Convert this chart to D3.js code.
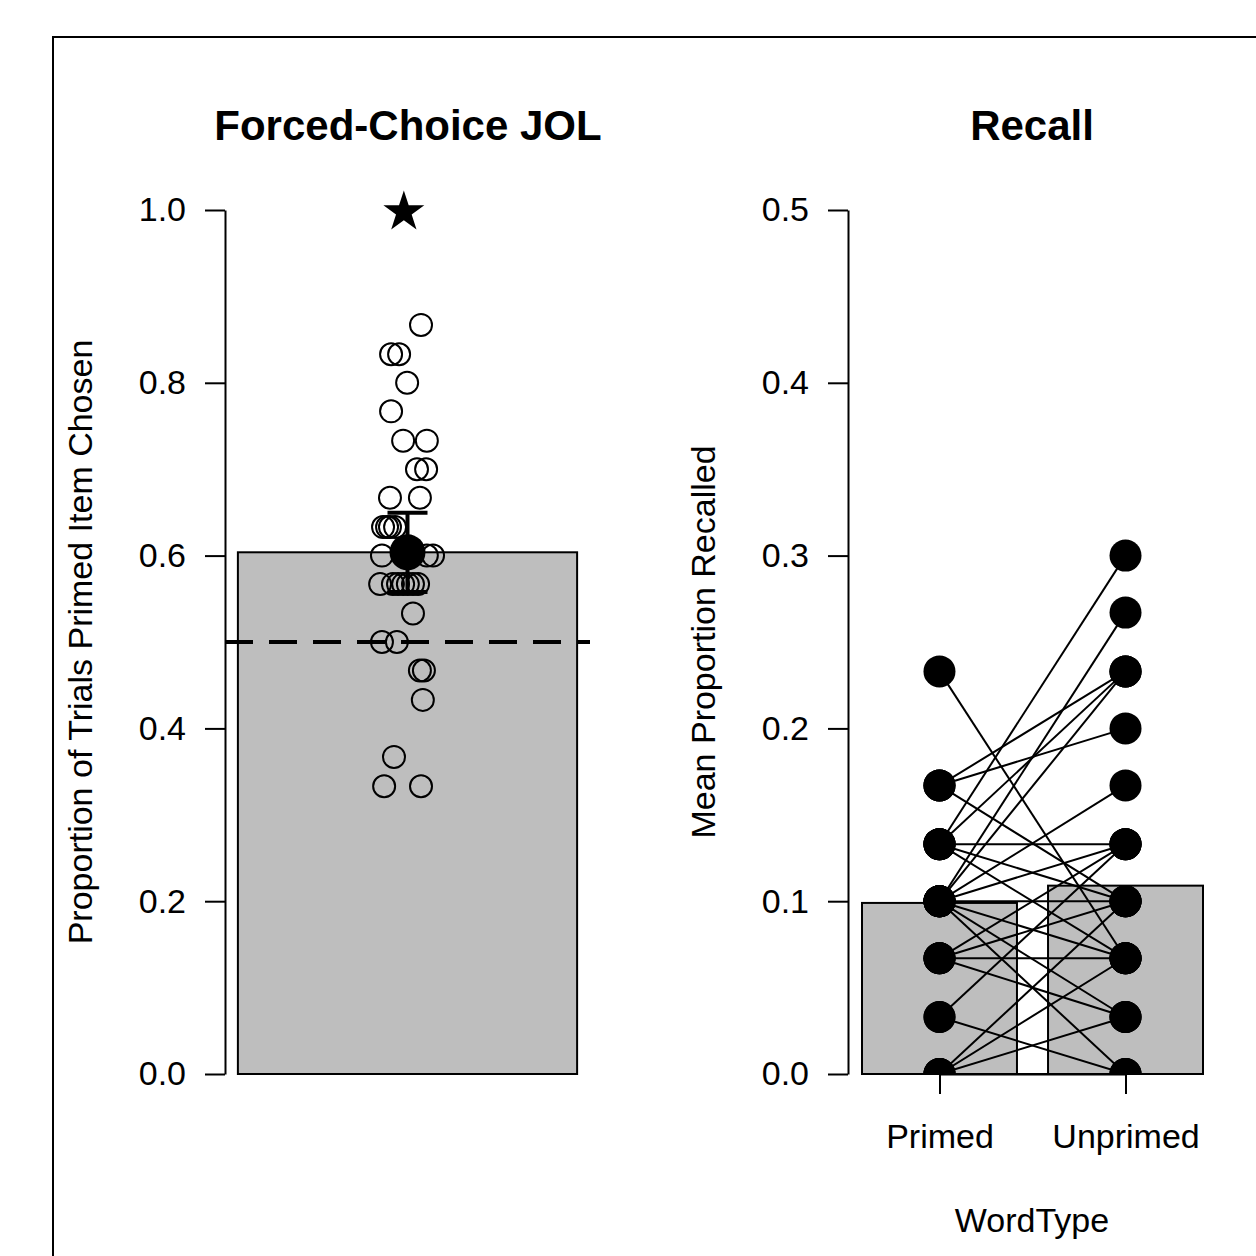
<!DOCTYPE html>
<html>
<head>
<meta charset="utf-8">
<script src="https://cdnjs.cloudflare.com/ajax/libs/d3/7.8.5/d3.min.js"></script>
<style>
  body { margin: 0; background: #fff; }
  text { font-family: "Liberation Sans", Arial, sans-serif; fill: #000; }
</style>
</head>
<body>
<div id="chart"></div>
<script>
// ---- data ----
// left panel: proportion of trials the primed item was chosen, one point per participant
var jolProps = [0.867,0.833,0.833,0.8,0.767,0.733,0.733,0.7,0.7,0.667,0.667,
                0.633,0.633,0.633,0.633,0.6,0.6,0.6,0.6,
                0.567,0.567,0.567,0.567,0.567,0.567,0.567,0.533,0.5,0.5,
                0.467,0.467,0.433,0.367,0.333,0.333]
// horizontal jitter of those points (0..1 across the panel)
var jolJitter = [0.537,0.455,0.477,0.499,0.455,0.488,0.553,0.526,0.551,0.452,0.534,
                 0.433,0.444,0.452,0.466,0.430,0.501,0.553,0.570,
                 0.425,0.460,0.474,0.488,0.501,0.515,0.529,0.515,0.430,0.471,
                 0.534,0.545,0.542,0.463,0.436,0.537]
var chance = 0.5
var sigMark = [1.0]
var jolTicks = [0, 0.2, 0.4, 0.6, 0.8, 1.0]

// right panel: recall per participant, primed vs unprimed
var wordTypes = ["Primed", "Unprimed"]
var recallMeans = [0.099, 0.109]
var recallPrimed = [0.233,0.167,0.167,0.167,0.133,0.133,0.133,0.133,0.133,
                    0.1,0.1,0.1,0.1,0.1,0.1,0.1,0.1,0.067,0.067,0.067,0.067,
                    0.033,0.033,0,0,0,0]
var recallUnprimed = [0.067,0.233,0.2,0.1,0.3,0.233,0.133,0.1,0.067,
                      0.267,0.233,0.167,0.133,0.1,0.067,0.033,0,0.133,0.1,0.067,0.033,
                      0.133,0,0.1,0.067,0.033,0]
var recallTicks = [0, 0.1, 0.2, 0.3, 0.4, 0.5]

var W = 1256, H = 1256
var FS = 34, TITLE_FS = 42
var svg = d3.select('#chart').append('svg')
    .attr('width', W).attr('height', H)

// frame (runs off the right and bottom edge like the source)
svg.append('rect')
    .attr('x', 53).attr('y', 37).attr('width', 1400).attr('height', 1400)
    .attr('fill', 'none').attr('stroke', '#000').attr('stroke-width', 2)

// ================= left panel =================
var yL = d3.scaleLinear().domain([0, 1]).range([1074, 210])
var xL = d3.scaleLinear().domain([0, 1]).range([225, 590])
var bandL = d3.scaleBand().domain(['jol']).range([225, 590]).paddingOuter(0.038)

var left = svg.append('g')

var jolMean = d3.mean(jolProps)
var se = d3.deviation(jolProps) / Math.sqrt(jolProps.length)
var ci = 2.03 * se

left.append('rect')
    .attr('x', bandL('jol')).attr('width', bandL.bandwidth())
    .attr('y', yL(jolMean)).attr('height', yL(0) - yL(jolMean))
    .attr('fill', '#bebebe').attr('stroke', '#000').attr('stroke-width', 2)

left.append('line')
    .attr('x1', xL(0)).attr('x2', xL(1))
    .attr('y1', yL(chance)).attr('y2', yL(chance))
    .attr('stroke', '#000').attr('stroke-width', 4)
    .attr('stroke-dasharray', '28,16')

left.selectAll('.pt')
    .data(jolProps)
  .enter().append('circle')
    .attr('class', 'pt')
    .attr('cx', function(d, i) { return xL(jolJitter[i]) })
    .attr('cy', function(d) { return yL(d) })
    .attr('r', 11)
    .attr('fill', 'none').attr('stroke', '#000').attr('stroke-width', 2)

var cx = xL(0.5)
var eb = left.append('g').attr('stroke', '#000').attr('stroke-width', 4)
eb.append('line').attr('x1', cx).attr('x2', cx).attr('y1', yL(jolMean - ci)).attr('y2', yL(jolMean + ci))
eb.append('line').attr('x1', cx - 20).attr('x2', cx + 20).attr('y1', yL(jolMean + ci)).attr('y2', yL(jolMean + ci))
eb.append('line').attr('x1', cx - 20).attr('x2', cx + 20).attr('y1', yL(jolMean - ci)).attr('y2', yL(jolMean - ci))

left.append('circle')
    .attr('cx', cx).attr('cy', yL(jolMean)).attr('r', 18).attr('fill', '#000')

left.selectAll('.star')
    .data(sigMark)
  .enter().append('path')
    .attr('d', d3.symbol().type(d3.symbolStar).size(520))
    .attr('transform', function(d) { return 'translate(' + xL(0.49) + ',' + (yL(d) + 2) + ')' })
    .attr('fill', '#000')

var axL = left.append('g')
    .attr('transform', 'translate(225,0)')
    .call(d3.axisLeft(yL).tickValues(jolTicks).tickFormat(d3.format('.1f'))
      .tickSize(20).tickSizeOuter(0).tickPadding(19))
axL.selectAll('path,line').attr('stroke-width', 2)
axL.selectAll('text').attr('font-size', FS).style('font-family', '"Liberation Sans", Arial, sans-serif')

left.append('text')
    .attr('transform', 'translate(92,642) rotate(-90)')
    .attr('text-anchor', 'middle')
    .attr('font-size', FS)
    .text('Proportion of Trials Primed Item Chosen')

left.append('text')
    .attr('x', 408).attr('y', 140)
    .attr('text-anchor', 'middle')
    .attr('font-size', TITLE_FS).attr('font-weight', 'bold')
    .text('Forced-Choice JOL')

// ================= right panel =================
var yR = d3.scaleLinear().domain([0, 0.5]).range([1074, 210])
var xR = d3.scaleBand().domain(wordTypes).range([862, 1203])
    .paddingInner(0.167).paddingOuter(0)
var mid = function(k) { return xR(k) + xR.bandwidth() / 2 }

var right = svg.append('g')

svg.append('defs').append('clipPath').attr('id', 'clipR')
  .append('rect').attr('x', 848).attr('y', 150).attr('width', 400).attr('height', 1074 - 150)

right.selectAll('.bar')
    .data(wordTypes)
  .enter().append('rect')
    .attr('class', 'bar')
    .attr('x', function(d) { return xR(d) })
    .attr('width', xR.bandwidth())
    .attr('y', function(d, i) { return yR(recallMeans[i]) })
    .attr('height', function(d, i) { return yR(0) - yR(recallMeans[i]) })
    .attr('fill', '#bebebe').attr('stroke', '#000').attr('stroke-width', 2)

var inner = right.append('g').attr('clip-path', 'url(#clipR)')

inner.selectAll('.link')
    .data(recallPrimed)
  .enter().append('line')
    .attr('x1', mid('Primed')).attr('x2', mid('Unprimed'))
    .attr('y1', function(d) { return yR(d) })
    .attr('y2', function(d, i) { return yR(recallUnprimed[i]) })
    .attr('stroke', '#000').attr('stroke-width', 2)

inner.selectAll('.p1')
    .data(recallPrimed)
  .enter().append('circle')
    .attr('cx', mid('Primed')).attr('cy', function(d) { return yR(d) })
    .attr('r', 16).attr('fill', '#000')

inner.selectAll('.p2')
    .data(recallUnprimed)
  .enter().append('circle')
    .attr('cx', mid('Unprimed')).attr('cy', function(d) { return yR(d) })
    .attr('r', 16).attr('fill', '#000')

var axR = right.append('g')
    .attr('transform', 'translate(848,0)')
    .call(d3.axisLeft(yR).tickValues(recallTicks).tickFormat(d3.format('.1f'))
      .tickSize(20).tickSizeOuter(0).tickPadding(19))
axR.selectAll('path,line').attr('stroke-width', 2)
axR.selectAll('text').attr('font-size', FS).style('font-family', '"Liberation Sans", Arial, sans-serif')

// x axis: line between the two ticks, R style
var axX = right.append('g')
    .attr('transform', 'translate(0,1074)')
    .call(d3.axisBottom(d3.scalePoint().domain(wordTypes).range([mid('Primed'), mid('Unprimed')]))
      .tickSize(20).tickSizeOuter(0).tickPadding(30))
axX.selectAll('path,line').attr('stroke-width', 2)
axX.selectAll('text').attr('font-size', FS).style('font-family', '"Liberation Sans", Arial, sans-serif')

right.append('text')
    .attr('transform', 'translate(715,642) rotate(-90)')
    .attr('text-anchor', 'middle')
    .attr('font-size', FS)
    .text('Mean Proportion Recalled')

right.append('text')
    .attr('x', 1032).attr('y', 1232)
    .attr('text-anchor', 'middle')
    .attr('font-size', FS)
    .text('WordType')

right.append('text')
    .attr('x', 1032).attr('y', 140)
    .attr('text-anchor', 'middle')
    .attr('font-size', TITLE_FS).attr('font-weight', 'bold')
    .text('Recall')
</script>
</body>
</html>
